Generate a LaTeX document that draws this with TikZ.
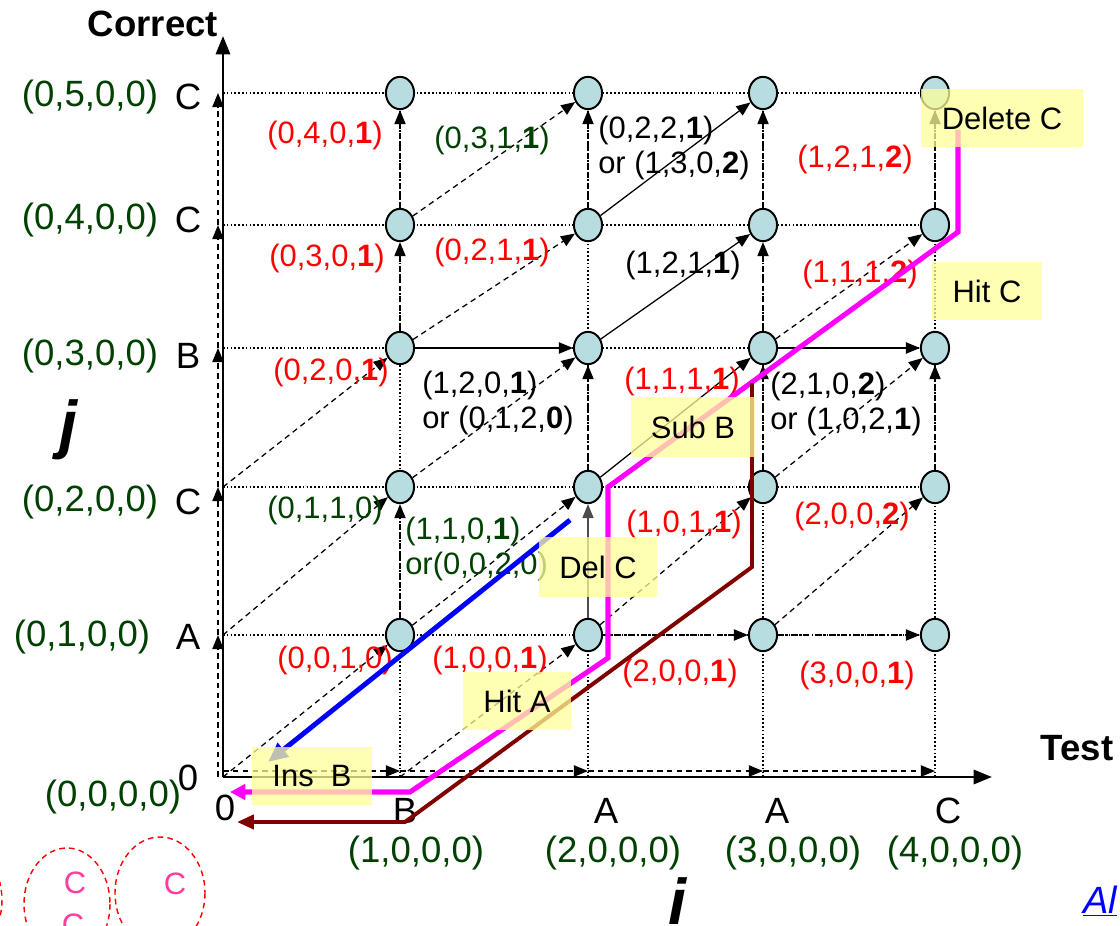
\documentclass[tikz,border=0pt]{standalone}
\usepackage{fontspec}
\setmainfont{Liberation Sans}
\usepackage{tikz}
\usetikzlibrary{shapes.geometric,arrows.meta,backgrounds}

\definecolor{dkgreen}{RGB}{0,64,0}
\definecolor{cellblue}{RGB}{183,221,224}
\definecolor{notebg}{RGB}{255,255,153}
\definecolor{pathbrown}{RGB}{128,0,0}
\definecolor{pathmag}{RGB}{255,0,255}
\definecolor{hotpink}{RGB}{255,60,160}

\newcommand{\tup}[2]{(#1\textbf{#2})}
\newcommand{\smallsz}{\fontsize{22}{25}\selectfont}
\newcommand{\bigsz}{\fontsize{26}{30}\selectfont}

\tikzset{
  cell/.style={ellipse, draw, line width=1.4pt, fill=cellblue, minimum width=20pt, minimum height=23pt, inner sep=0pt},
  gridline/.style={line width=1pt, dash pattern=on 1.2pt off 1.5pt},
  darr/.style={-{Triangle[length=10pt,width=8pt]}, line width=0.9pt, dash pattern=on 4pt off 3pt},
  sarr/.style={-{Triangle[length=10pt,width=8pt]}, line width=0.9pt},
  ddarr/.style={-{Triangle[length=10pt,width=8pt]}, line width=0.9pt, dash pattern=on 4pt off 2pt on 1pt off 2pt},
  lbl/.style={inner sep=0pt, font=\smallsz},
  axlbl/.style={inner sep=0pt, font=\bigsz},
  notebox/.style={fill=notebg, fill opacity=0.75, text opacity=1, inner sep=0pt, font=\smallsz},
}

\begin{document}
\begin{tikzpicture}[x=0.025cm,y=-0.025cm]
\useasboundingbox (0,0) rectangle (1120,926);
\clip (0,0) rectangle (1120,926);

% Cells of the table
\foreach \i/\x in {1/400,2/588,3/763,4/935}{
  \coordinate (t\i) at (\x,777);
  \coordinate (b\i) at (\x,771);
  \foreach \j/\y in {1/635,2/487,3/348,4/225,5/93}
    \node[cell] (n\i\j) at (\x,\y) {};
}
\foreach \j/\y in {1/635,2/487,3/348,4/225,5/93}{
  \coordinate (l\j) at (223,\y);
  \coordinate (a\j) at (218,\y);
}
\coordinate (o) at (223,777);
\coordinate (a0) at (218,777);
\coordinate (b0) at (223,771);
\coordinate (ytip) at (223,36);
\coordinate (xtip) at (992,777);

\begin{scope}[on background layer]
% Grid
\foreach \j in {1,...,5} \draw[gridline] (l\j) -- (n4\j);
\foreach \i in {1,...,4} \draw[gridline] (t\i) -- (n\i5);
% Axes
\draw[line width=2pt, -{Triangle[length=13pt,width=10pt]}] (o) -- (ytip);
\draw[line width=2pt, -{Triangle[length=13pt,width=10pt]}] (o) -- (xtip);
% Moves along the axes
\foreach \k/\j in {0/1,1/2,2/3,3/4,4/5} \draw[darr] (a\k) -- (a\j);
\foreach \k/\j in {0/1,1/2,2/3,3/4} \draw[darr] (b\k) -- (b\j);
% Vertical moves
\foreach \a/\b in {11/12,13/14,14/15,22/23,24/25,32/33,33/34,34/35,42/43,44/45}
  \draw[darr] (n\a) -- (n\b);
\draw[sarr, gray!60!black] (n21) -- (n22);
% Horizontal moves
\draw[sarr] (n13) -- (n23);
\draw[sarr] (n33) -- (n43);
\draw[ddarr] (n21) -- (n31);
\draw[ddarr] (n31) -- (n41);
% Diagonal moves
\draw[darr] (o) -- (n11);
\draw[darr] (t1) -- (n21);
\draw[darr] (l1) -- (n12);
\draw[darr] (l2) -- (n13);
\foreach \a/\b in {11/22,21/32,31/42,12/23,32/43,13/24,33/44,14/25}
  \draw[darr] (n\a) -- (n\b);
\foreach \a/\b in {22/33,23/34,24/35} \draw[sarr] (n\a) -- (n\b);
\end{scope}

% Axis labels
\foreach \j/\x/\y/\c in {1/82/637/A,2/90/502/C,3/90/356/B,4/90/220/C,5/90/97/C}{
  \node[axlbl, dkgreen] (y\j) at (\x,\y) {(0,\j,0,0)};
  \node[axlbl] (ly\j) at (188,\y) {\c};
}
\foreach \i/\x/\u/\c in {1/405/416/B,2/606/613/A,3/777/793/A,4/948/955/C}{
  \node[axlbl] (lx\i) at (\x,811) {\c};
  \node[axlbl, dkgreen] (x\i) at (\u,853) {(\i,0,0,0)};
}
\node[axlbl, dkgreen] (y0) at (113,797) {(0,0,0,0)};
\node[axlbl] (ly0) at (188,778) {0};
\node[axlbl] (lx0) at (225,808) {0};
\node[inner sep=0pt, font=\fontsize{26}{30}\selectfont\bfseries] (corr) at (153,24) {Correct};
\node[inner sep=0pt, font=\fontsize{26}{30}\selectfont\bfseries] (test) at (1077,748) {Test};
\node[inner sep=0pt, font=\fontsize{46}{46}\selectfont\bfseries\itshape] (jj) at (68,430) {j};
\node[inner sep=0pt, font=\fontsize{46}{46}\selectfont\bfseries\itshape] (ii) at (677,901) {i};

% Cell values
\node[lbl, red] (v1) at (325,135) {\tup{0,4,0,}{1}};
\node[lbl, red] (v2) at (327,258) {\tup{0,3,0,}{1}};
\node[lbl, red] (v3) at (331,372) {\tup{0,2,0,}{1}};
\node[lbl, dkgreen] (v4) at (492,140) {\tup{0,3,1,}{1}};
\node[lbl, red] (v5) at (492,252) {\tup{0,2,1,}{1}};
\node[lbl, anchor=west, align=left] (v6) at (598,148) {\tup{0,2,2,}{1}\\or \tup{1,3,0,}{2}};
\node[lbl] (v7) at (683,265) {\tup{1,2,1,}{1}};
\node[lbl, red] (v8) at (855,159) {\tup{1,2,1,}{2}};
\node[lbl, red] (v9) at (860,274) {\tup{1,1,1,}{2}};
\node[lbl, anchor=west, align=left] (v10) at (422,403) {\tup{1,2,0,}{1}\\or \tup{0,1,2,}{0}};
\node[lbl, red] (v11) at (682,381) {\tup{1,1,1,}{1}};
\node[lbl, anchor=west, align=left] (v12) at (770,404) {\tup{2,1,0,}{2}\\or \tup{1,0,2,}{1}};
\node[lbl, dkgreen] (v13) at (325,510) {(0,1,1,0)};
\node[lbl, dkgreen, anchor=west, align=left] (v14) at (405,549) {\tup{1,1,0,}{1}\\or(0,0,2,0)};
\node[lbl, red] (v15) at (684,524) {\tup{1,0,1,}{1}};
\node[lbl, red] (v16) at (852,516) {\tup{2,0,0,}{2}};
\node[lbl, red] (v17) at (335,660) {(0,0,1,0)};
\node[lbl, red] (v18) at (490,660) {\tup{1,0,0,}{1}};
\node[lbl, red] (v19) at (680,673) {\tup{2,0,0,}{1}};
\node[lbl, red] (v20) at (857,675) {\tup{3,0,0,}{1}};

% Traceback paths
\draw[pathmag, line width=3.6pt, -{Triangle[length=11pt,width=11pt]}]
  (958,130) -- (958,232) -- (608,487) -- (608,658) -- (410,792) -- (230,792);
\draw[pathbrown, line width=2.8pt, -{Triangle[length=12pt,width=10pt]}]
  (752,383) -- (752,567) -- (405,822) -- (237,822);
\draw[blue, line width=3.5pt, -{Triangle[length=14pt,width=12pt]}]
  (570,520) -- (268,762);

% Notes
\node[notebox, minimum width=86pt, minimum height=41pt] (insb) at (312,776) {Ins\ \ B};
\node[notebox, minimum width=77pt, minimum height=41pt] (hita) at (517,701) {Hit A};
\node[notebox, minimum width=84pt, minimum height=42pt] (delc) at (598,567) {Del C};
\node[notebox, minimum width=88pt, minimum height=42pt] (subb) at (693,427) {Sub B};
\node[notebox, minimum width=78pt, minimum height=41pt] (hitc) at (987,291) {Hit C};
\node[notebox, minimum width=115pt, minimum height=41pt] (delete) at (1002,118) {Delete C};

% Corner remains
\draw[red, line width=1pt, dash pattern=on 4pt off 3pt] (-42,900) ellipse [x radius=44, y radius=56];
\draw[red, line width=1pt, dash pattern=on 4pt off 3pt] (67,904) ellipse [x radius=43, y radius=56];
\draw[red, line width=1pt, dash pattern=on 4pt off 3pt] (160,893) ellipse [x radius=45, y radius=56];
\node[lbl, hotpink] (c1) at (75,883) {C};
\node[lbl, hotpink] (c2) at (73,925) {C};
\node[lbl, hotpink] (c3) at (175,884) {C};
\node[lbl, blue, anchor=base west, font=\fontsize{27}{30}\selectfont\itshape] (al) at (1083,913) {\underline{Al}};
\end{tikzpicture}
\end{document}
